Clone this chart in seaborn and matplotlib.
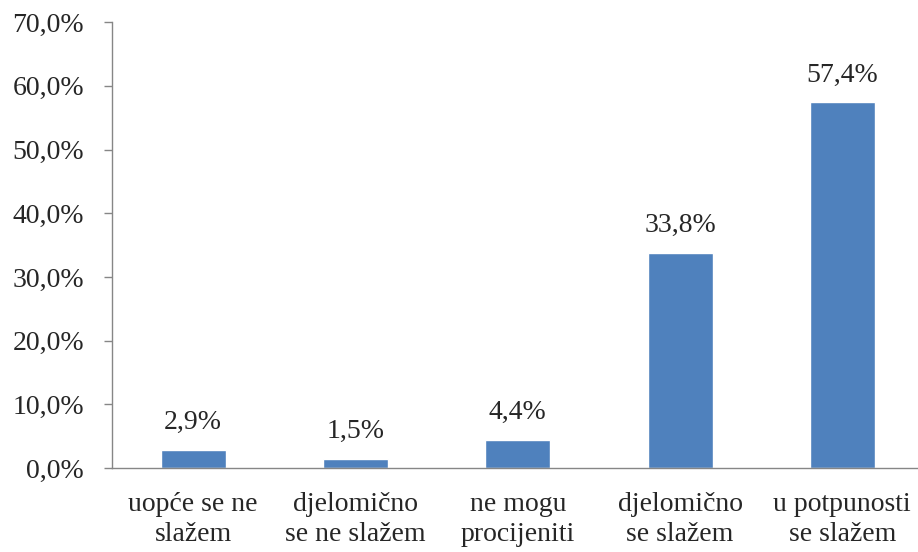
import numpy as np
import pandas as pd
import matplotlib
matplotlib.use("Agg")
import matplotlib.pyplot as plt
import seaborn as sns

# data
categories = ["uopće se ne\nslažem", "djelomično\nse ne slažem", "ne mogu\nprocijeniti",
              "djelomično\nse slažem", "u potpunosti\nse slažem"]
values = [2.9, 1.5, 4.4, 33.8, 57.4]
yticks = [0, 10, 20, 30, 40, 50, 60, 70]

df = pd.DataFrame({"odgovor": categories, "postotak": values})

sns.set_style("white")
plt.rcParams["font.family"] = ["Liberation Serif", "DejaVu Serif"]

fig = plt.figure(figsize=(9.18, 5.52), dpi=100)
ax = fig.add_axes([0.122, 0.152, 0.884, 0.808])

sns.barplot(data=df, x="odgovor", y="postotak", color="#4F81BD", width=0.4,
            saturation=1, ax=ax)

for i, v in enumerate(values):
    ax.text(i, v + 2.3, f"{v:.1f}".replace(".", ",") + "%", ha="center",
            va="bottom", fontsize=20)

ax.set_ylim(0, 70)
ax.set_xlim(-0.5, 4.5)
ax.set_yticks(yticks)
ax.set_yticklabels([f"{t:.1f}".replace(".", ",") + "%" for t in yticks], fontsize=20)
ax.set_xticks(range(len(categories)))
ax.set_xticklabels(categories, fontsize=20, linespacing=1.3)
ax.set_xticks(np.arange(-0.5, 5, 1), minor=True)
ax.tick_params(axis="x", which="major", length=0, pad=17)
ax.tick_params(axis="x", which="minor", length=5, color="#868686", width=1)
ax.tick_params(axis="y", length=6, color="#868686", width=1, left=True, pad=14)
ax.set_xlabel("")
ax.set_ylabel("")

for s in ["top", "right"]:
    ax.spines[s].set_visible(False)
for s in ["left", "bottom"]:
    ax.spines[s].set_color("#868686")
    ax.spines[s].set_linewidth(1)

fig.savefig("out.png", dpi=100)
